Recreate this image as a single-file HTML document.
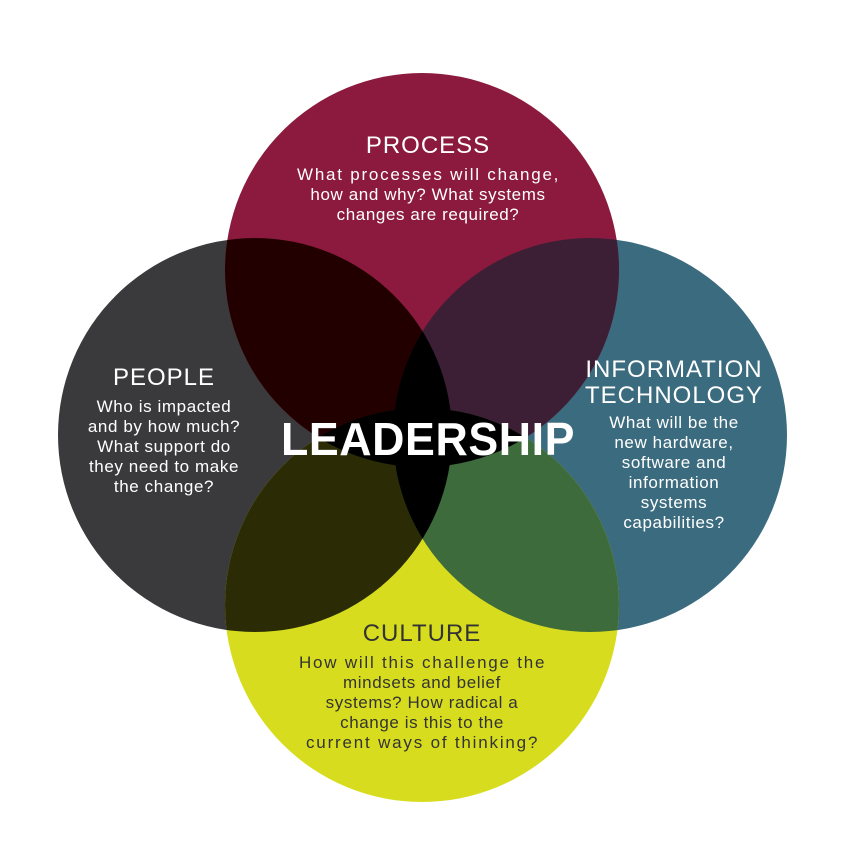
<!DOCTYPE html>
<html><head><meta charset="utf-8"><style>
html,body{margin:0;padding:0;background:#fff;}
svg{display:block;}
text{font-family:"Liberation Sans","DejaVu Sans",sans-serif;letter-spacing:0.6px;}
.h{letter-spacing:1px;}
</style></head><body>
<svg width="864" height="864" viewBox="0 0 864 864" xmlns="http://www.w3.org/2000/svg">
<defs>
<clipPath id="cP"><circle cx="422" cy="270" r="197"/></clipPath>
<clipPath id="cL"><circle cx="255" cy="435" r="197"/></clipPath>
<clipPath id="cR"><circle cx="590" cy="435" r="197"/></clipPath>
<clipPath id="cC"><circle cx="422" cy="605" r="197"/></clipPath>
</defs>
<rect width="864" height="864" fill="#fff"/>
<circle cx="255" cy="435" r="197" fill="#3a3a3c"/>
<circle cx="590" cy="435" r="197" fill="#3b6b7e"/>
<circle cx="422" cy="270" r="197" fill="#8b1a3e"/>
<circle cx="422" cy="605" r="197" fill="#d7dd1e"/>
<g clip-path="url(#cP)"><circle cx="255" cy="435" r="197" fill="#220000"/><circle cx="590" cy="435" r="197" fill="#3c1f35"/></g>
<g clip-path="url(#cC)"><circle cx="255" cy="435" r="197" fill="#2b2c05"/><circle cx="590" cy="435" r="197" fill="#3e6b3b"/></g>
<g clip-path="url(#cL)"><circle cx="590" cy="435" r="197" fill="#000"/></g>
<g clip-path="url(#cP)"><circle cx="422" cy="605" r="197" fill="#000"/></g>
<g fill="#fff" text-anchor="middle" font-size="17">
<text class="h" x="428" y="153" font-size="24">PROCESS</text>
<text x="428" y="180" textLength="262">What processes will change,</text>
<text x="428" y="200">how and why? What systems</text>
<text x="428" y="220">changes are required?</text>
<text class="h" x="164" y="385" font-size="24">PEOPLE</text>
<text x="164" y="412">Who is impacted</text>
<text x="164" y="432">and by how much?</text>
<text x="164" y="452">What support do</text>
<text x="164" y="472">they need to make</text>
<text x="164" y="492">the change?</text>
<text class="h" x="674" y="377" font-size="24">INFORMATION</text>
<text class="h" x="674" y="403" font-size="24">TECHNOLOGY</text>
<text x="674" y="428">What will be the</text>
<text x="674" y="448">new hardware,</text>
<text x="674" y="468">software and</text>
<text x="674" y="488">information</text>
<text x="674" y="508">systems</text>
<text x="674" y="528">capabilities?</text>
<text x="428" y="455" font-size="46" font-weight="bold" letter-spacing="0" textLength="294" lengthAdjust="spacingAndGlyphs">LEADERSHIP</text>
</g>
<g fill="#333" text-anchor="middle" font-size="17">
<text class="h" x="422" y="641" font-size="24">CULTURE</text>
<text x="422" y="668" textLength="246">How will this challenge the</text>
<text x="422" y="688">mindsets and belief</text>
<text x="422" y="708">systems? How radical a</text>
<text x="422" y="728">change is this to the</text>
<text x="422" y="748" textLength="232">current ways of thinking?</text>
</g>
</svg>
</body></html>
